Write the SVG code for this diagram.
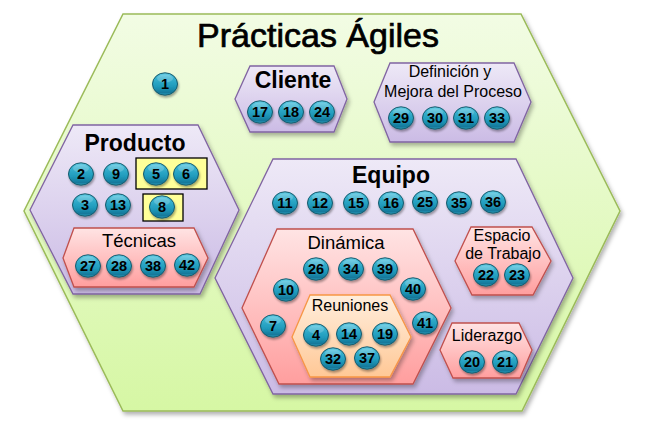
<svg xmlns="http://www.w3.org/2000/svg" xmlns:xlink="http://www.w3.org/1999/xlink" width="648" height="422" viewBox="0 0 648 422">
<defs>
<linearGradient id="gGreen" x1="0" y1="0" x2="0" y2="1"><stop offset="0" stop-color="#f2fce4"/><stop offset="1" stop-color="#d6f7a4"/></linearGradient>
<linearGradient id="gPurple" x1="0" y1="0" x2="0" y2="1"><stop offset="0" stop-color="#eee9f7"/><stop offset="1" stop-color="#cbbbe5"/></linearGradient>
<linearGradient id="gPink" x1="0" y1="0" x2="0" y2="1"><stop offset="0" stop-color="#ffe4e4"/><stop offset="1" stop-color="#ff9e9e"/></linearGradient>
<linearGradient id="gPeach" x1="0" y1="0" x2="0" y2="1"><stop offset="0" stop-color="#ffeedd"/><stop offset="1" stop-color="#ffc896"/></linearGradient>
<linearGradient id="gOrb" x1="0" y1="0" x2="0" y2="1"><stop offset="0" stop-color="#62cde5"/><stop offset="0.25" stop-color="#36b0ce"/><stop offset="0.6" stop-color="#209bbc"/><stop offset="0.88" stop-color="#15799b"/><stop offset="1" stop-color="#2c9ebc"/></linearGradient>
<filter id="sh" x="-10%" y="-10%" width="130%" height="130%"><feDropShadow dx="2" dy="3" stdDeviation="2" flood-color="#000" flood-opacity="0.3"/></filter>
<filter id="shb" x="-30%" y="-30%" width="170%" height="170%"><feDropShadow dx="1" dy="2" stdDeviation="1.2" flood-color="#000" flood-opacity="0.35"/></filter>
<g id="orb" filter="url(#shb)">
<ellipse cx="0" cy="0" rx="12.5" ry="11.2" fill="url(#gOrb)" stroke="#185a6c" stroke-width="1"/>
<ellipse cx="0" cy="-5.5" rx="8" ry="4" fill="#ffffff" opacity="0.2"/>
</g>
<style>
.green{fill:url(#gGreen);stroke:#9bbb59;stroke-width:1.5;filter:url(#sh)}
.purple{fill:url(#gPurple);stroke:#8064a2;stroke-width:1.3;filter:url(#sh)}
.pink{fill:url(#gPink);stroke:#c0504d;stroke-width:1.3;filter:url(#sh)}
.peach{fill:url(#gPeach);stroke:#f79646;stroke-width:1.3;filter:url(#sh)}
.ybox{fill:#ffff99;stroke:#000;stroke-width:1.3}
text{font-family:"Liberation Sans",Arial,sans-serif;fill:#000;text-anchor:middle}
.title{font-size:34px;stroke:#000;stroke-width:0.7}
.h1{font-size:23px;font-weight:bold}
.h2{font-size:18.5px}
.h3{font-size:16px}
.num{font-size:14.5px;font-weight:bold}
</style>
</defs>

<g id="practicas-agiles">
<polygon class="green" points="123,14 521,14 620,211 522,411 123,411 24,211"/>
<text class="title" x="318" y="47">Prácticas Ágiles</text>
</g>

<g id="cliente">
<polygon class="purple" points="250,66 334,66 347,99 334,132 250,132 235,99"/>
<text class="h1" x="293" y="88">Cliente</text>
</g>

<g id="definicion">
<polygon class="purple" points="390,63 514,63 531,102 514,142 390,142 374,102"/>
<text class="h3" x="450" y="77" font-size="15.5">Definición y</text>
<text class="h3" x="453" y="97" font-size="15.5">Mejora del Proceso</text>
</g>

<g id="producto">
<polygon class="purple" points="73,125 198,125 239,210 200,294 73,294 30,210"/>
<text class="h1" x="135" y="151">Producto</text>
<rect class="ybox" x="136" y="158" width="71" height="31"/>
<rect class="ybox" x="143" y="194" width="40" height="27"/>
</g>

<g id="tecnicas">
<polygon class="pink" points="74,228 194,228 208,258 194,287 74,287 63,258"/>
<text class="h2" x="139" y="247" font-size="17.5">Técnicas</text>
</g>

<g id="equipo">
<polygon class="purple" points="273,159 516,159 573,278 516,394 273,394 215,278"/>
<text class="h1" x="391" y="183">Equipo</text>
</g>

<g id="dinamica">
<polygon class="pink" points="277,229 413,229 451,308 413,384 279,384 242,308"/>
<text class="h2" x="346" y="249">Dinámica</text>
</g>

<g id="reuniones">
<polygon class="peach" points="310,295 390,295 411,337 390,377 310,377 292,337"/>
<text class="h3" x="350" y="311" font-size="15.5">Reuniones</text>
</g>

<g id="espacio">
<polygon class="pink" points="471,227 532,227 551,261 533,295 472,295 455,261"/>
<text class="h3" x="502" y="241">Espacio</text>
<text class="h3" x="503" y="259">de Trabajo</text>
</g>

<g id="liderazgo">
<polygon class="pink" points="452,323 519,323 532,350 520,378 453,378 440,350"/>
<text class="h3" x="487" y="341">Liderazgo</text>
</g>

<g id="connectors"/>

<g id="p1"><use href="#orb" x="165" y="84"/><text class="num" x="165" y="89">1</text></g>
<g id="p17"><use href="#orb" x="260" y="112"/><text class="num" x="260" y="117">17</text></g>
<g id="p18"><use href="#orb" x="291" y="112"/><text class="num" x="291" y="117">18</text></g>
<g id="p24"><use href="#orb" x="322" y="112"/><text class="num" x="322" y="117">24</text></g>
<g id="p29"><use href="#orb" x="401" y="118"/><text class="num" x="401" y="123">29</text></g>
<g id="p30"><use href="#orb" x="435" y="118"/><text class="num" x="435" y="123">30</text></g>
<g id="p31"><use href="#orb" x="466" y="118"/><text class="num" x="466" y="123">31</text></g>
<g id="p33"><use href="#orb" x="497" y="118"/><text class="num" x="497" y="123">33</text></g>
<g id="p2"><use href="#orb" x="81" y="174"/><text class="num" x="81" y="179">2</text></g>
<g id="p9"><use href="#orb" x="116" y="174"/><text class="num" x="116" y="179">9</text></g>
<g id="p5"><use href="#orb" x="156" y="174"/><text class="num" x="156" y="179">5</text></g>
<g id="p6"><use href="#orb" x="186" y="174"/><text class="num" x="186" y="179">6</text></g>
<g id="p3"><use href="#orb" x="85" y="205"/><text class="num" x="85" y="210">3</text></g>
<g id="p13"><use href="#orb" x="118" y="205"/><text class="num" x="118" y="210">13</text></g>
<g id="p8"><use href="#orb" x="162" y="207"/><text class="num" x="162" y="212">8</text></g>
<g id="p27"><use href="#orb" x="88" y="266"/><text class="num" x="88" y="271">27</text></g>
<g id="p28"><use href="#orb" x="119" y="266"/><text class="num" x="119" y="271">28</text></g>
<g id="p38"><use href="#orb" x="153" y="266"/><text class="num" x="153" y="271">38</text></g>
<g id="p42"><use href="#orb" x="187" y="265"/><text class="num" x="187" y="270">42</text></g>
<g id="p11"><use href="#orb" x="285" y="203"/><text class="num" x="285" y="208">11</text></g>
<g id="p12"><use href="#orb" x="320" y="203"/><text class="num" x="320" y="208">12</text></g>
<g id="p15"><use href="#orb" x="356" y="203"/><text class="num" x="356" y="208">15</text></g>
<g id="p16"><use href="#orb" x="391" y="203"/><text class="num" x="391" y="208">16</text></g>
<g id="p25"><use href="#orb" x="425" y="202"/><text class="num" x="425" y="207">25</text></g>
<g id="p35"><use href="#orb" x="459" y="203"/><text class="num" x="459" y="208">35</text></g>
<g id="p36"><use href="#orb" x="493" y="202"/><text class="num" x="493" y="207">36</text></g>
<g id="p26"><use href="#orb" x="316" y="269"/><text class="num" x="316" y="274">26</text></g>
<g id="p34"><use href="#orb" x="351" y="269"/><text class="num" x="351" y="274">34</text></g>
<g id="p39"><use href="#orb" x="385" y="269"/><text class="num" x="385" y="274">39</text></g>
<g id="p10"><use href="#orb" x="286" y="290"/><text class="num" x="286" y="295">10</text></g>
<g id="p40"><use href="#orb" x="413" y="289"/><text class="num" x="413" y="294">40</text></g>
<g id="p7"><use href="#orb" x="273" y="326"/><text class="num" x="273" y="331">7</text></g>
<g id="p41"><use href="#orb" x="425" y="323"/><text class="num" x="425" y="328">41</text></g>
<g id="p4"><use href="#orb" x="316" y="335"/><text class="num" x="316" y="340">4</text></g>
<g id="p14"><use href="#orb" x="349" y="334"/><text class="num" x="349" y="339">14</text></g>
<g id="p19"><use href="#orb" x="385" y="334"/><text class="num" x="385" y="339">19</text></g>
<g id="p32"><use href="#orb" x="333" y="359"/><text class="num" x="333" y="364">32</text></g>
<g id="p37"><use href="#orb" x="367" y="358"/><text class="num" x="367" y="363">37</text></g>
<g id="p22"><use href="#orb" x="486" y="275"/><text class="num" x="486" y="280">22</text></g>
<g id="p23"><use href="#orb" x="517" y="275"/><text class="num" x="517" y="280">23</text></g>
<g id="p20"><use href="#orb" x="472" y="362"/><text class="num" x="472" y="367">20</text></g>
<g id="p21"><use href="#orb" x="505" y="362"/><text class="num" x="505" y="367">21</text></g>
</svg>
